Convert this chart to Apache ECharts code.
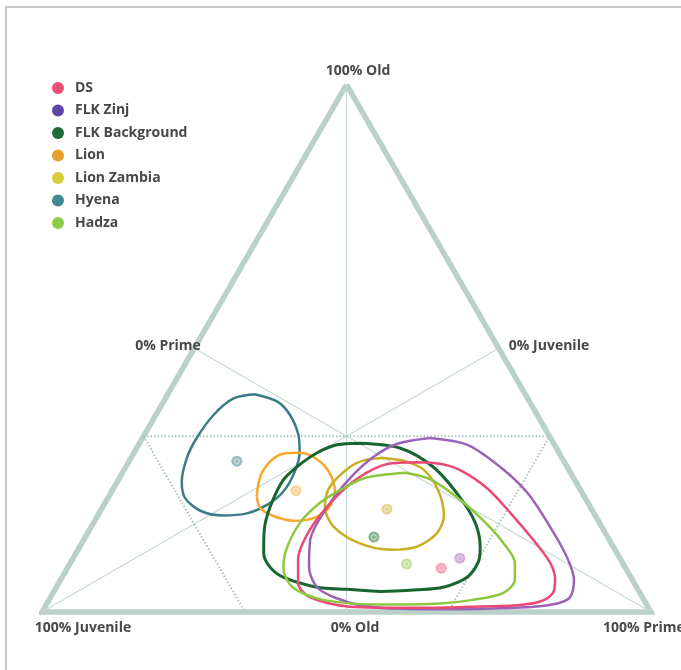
<!DOCTYPE html>
<html>
<head>
<meta charset="utf-8">
<script src="https://cdn.jsdelivr.net/npm/echarts@6/dist/echarts.min.js"></script>
<style>
  html, body { margin: 0; padding: 0; background: #fff; }
  #chart { width: 681px; height: 670px; }
</style>
</head>
<body>
<div id="chart"></div>
<script>
// Mortality-profile groups (legend order)
const groups = ['DS', 'FLK Zinj', 'FLK Background', 'Lion', 'Lion Zambia', 'Hyena', 'Hadza'];
const lineColors = ['#ea4a73', '#9b62b6', '#17662f', '#f5a82a', '#c9ae22', '#3a7d86', '#8dc63f'];
const legendColors = ['#e8527a', '#5c45a6', '#1e6b3a', '#e5a030', '#d8cc3a', '#3f8a8e', '#8ccc4a'];

// Mean profile of each group as [prime %, old %]; juvenile % is the remainder
const groupMeans = [
  [61.4, 8.3], [63.5, 10.2], [47.4, 14.2], [30.2, 23.0], [46.9, 19.5], [17.7, 28.6], [55.3, 9.1]
];

// Confidence contours as [prime %, old %]
const dsContour = [
  [47.1, 28.4], [51.3, 28.1], [55.2, 26.9], [61.3, 23.5], [67.5, 18.8], [73.8, 13.7], [78.8, 9.3],
  [81.2, 6.1], [82.1, 3.6], [80.8, 2.0], [77.3, 1.3], [69.8, 1.0], [61.2, 0.8], [50.1, 1.0],
  [42.6, 2.8], [39.3, 5.5], [37.1, 9.9], [36.2, 15.6], [37.2, 21.2], [39.2, 25.4], [42.8, 28.1]
];
const flkZinjContour = [
  [47.2, 33.0], [54.0, 31.7], [61.5, 27.5], [68.4, 22.6], [75.4, 16.1], [81.0, 10.4], [84.3, 6.1],
  [85.3, 2.8], [83.8, 1.6], [80.2, 1.0], [74.9, 0.7], [66.8, 0.5], [58.5, 0.6], [51.6, 1.3],
  [46.8, 2.7], [42.8, 4.7], [39.6, 8.5], [37.2, 13.7], [36.9, 19.9], [37.9, 25.4], [39.7, 29.4], [42.4, 31.9]
];
const flkBackgroundContour = [
  [36.2, 32.0], [43.2, 31.1], [50.5, 27.5], [57.7, 21.8], [62.7, 16.9], [65.8, 12.3], [66.9, 9.5],
  [66.5, 6.6], [63.5, 4.7], [59.5, 4.2], [53.6, 3.9], [48.0, 4.3], [42.8, 4.7], [36.3, 6.6],
  [33.2, 8.5], [30.8, 11.2], [28.7, 15.6], [27.5, 19.9], [27.1, 25.0], [28.2, 27.7], [30.1, 30.2], [32.6, 31.7]
];
const lionContour = [
  [24.3, 21.9], [23.0, 25.7], [23.2, 28.5], [24.6, 30.0], [27.3, 30.2], [30.6, 29.0], [34.1, 26.3],
  [36.7, 22.8], [37.2, 19.7], [35.7, 17.8], [32.6, 17.3], [28.9, 18.2], [26.0, 19.7]
];
const lionZambiaContour = [
  [41.4, 29.2], [45.3, 28.6], [49.3, 26.9], [53.5, 23.1], [56.8, 18.4], [57.4, 15.0], [55.4, 12.4],
  [51.3, 11.8], [45.7, 13.0], [39.9, 16.1], [36.5, 19.9], [35.4, 23.7], [36.8, 27.5], [38.6, 28.8]
];
const hyenaContour = [
  [14.3, 41.3], [18.7, 39.9], [22.0, 37.4], [25.3, 33.6], [27.1, 30.4], [28.2, 26.6], [28.2, 22.8],
  [26.8, 20.3], [24.3, 18.7], [20.6, 18.3], [16.4, 19.2], [12.7, 21.6], [10.6, 24.7], [9.2, 29.1],
  [8.9, 32.9], [9.5, 37.4], [11.2, 40.5]
];
const hadzaContour = [
  [46.4, 26.4], [51.1, 25.2], [57.2, 21.8], [63.7, 17.4], [69.2, 13.1], [73.0, 9.3], [74.6, 6.1],
  [73.9, 3.6], [69.6, 2.3], [64.5, 1.6], [55.3, 1.4], [45.0, 2.3], [38.8, 4.7], [35.5, 8.3],
  [34.2, 11.8], [33.9, 16.9], [35.3, 20.7], [37.4, 23.1], [40.3, 25.4]
];
const contours = [dsContour, flkZinjContour, flkBackgroundContour, lionContour,
  lionZambiaContour, hyenaContour, hadzaContour];

// Triangle corners and guides, [prime %, old %]
const triangleFrame = [[0, 100], [0, 0], [100, 0], [0, 100]];
const medianSegments = [[[0, 100], [50, 0]], [[0, 50], [100, 0]], [[50, 50], [0, 0]]];
const thirdSegments = [[[0, 33.33], [66.67, 33.33]], [[0, 33.33], [33.33, 0]], [[66.67, 0], [66.67, 33.33]]];
const cornerLabels = ['100% Old', '0% Prime', '0% Juvenile', '100% Juvenile', '0% Old', '100% Prime'];

// Ternary -> plane coordinates (unit side 100)
const H = Math.sqrt(3) / 2;
const toXY = p => [p[0] + p[1] / 2, p[1] * H];
const segData = segs => segs.flatMap((s, i) => (i ? ['-'] : []).concat(s.map(toXY)));

const FONT = 'Open Sans';
const labelFont = { fontFamily: FONT, fontWeight: 'bold', fontSize: 14, fill: '#484848' };
const labelPlaces = [
  { x: 358, y: 71, align: 'center' },
  { x: 168, y: 346, align: 'center' },
  { x: 549, y: 346, align: 'center' },
  { x: 83, y: 628, align: 'center' },
  { x: 355, y: 628, align: 'center' },
  { x: 603, y: 628, align: 'left' }
];

const series = [
  {
    type: 'line', silent: true, clip: false, showSymbol: false, z: 1,
    data: triangleFrame.map(toXY),
    lineStyle: { color: '#b9d1c8', width: 5.5, join: 'miter', miterLimit: 20 }
  },
  {
    type: 'line', silent: true, showSymbol: false, z: 1, connectNulls: false,
    data: segData(medianSegments),
    lineStyle: { color: '#c6d9d2', width: 1.2 }
  },
  {
    type: 'line', silent: true, showSymbol: false, z: 1, connectNulls: false,
    data: segData(thirdSegments),
    lineStyle: { color: '#a9c4bb', width: 2, type: [1.5, 2] }
  }
];

const drawOrder = [5, 3, 2, 4, 1, 0, 6];
drawOrder.forEach(i => {
  series.push({
    name: groups[i], type: 'line', showSymbol: false, smooth: 0.3, z: 3,
    data: contours[i].concat([contours[i][0]]).map(toXY),
    itemStyle: { color: lineColors[i] },
    lineStyle: { color: lineColors[i], width: i === 2 ? 3 : 2.5 }
  });
});

series.push({
  type: 'scatter', silent: true, symbol: 'circle', symbolSize: 11, z: 4,
  data: groupMeans.map((m, i) => ({ value: toXY(m), itemStyle: { color: lineColors[i], opacity: 0.5 } }))
});
series.push({
  type: 'scatter', silent: true, symbol: 'circle', symbolSize: 5, z: 5,
  data: groupMeans.map(m => toXY(m)),
  itemStyle: { color: 'rgba(0,0,0,0)', borderColor: 'rgba(255,255,255,0.7)', borderWidth: 1 }
});

const chart = echarts.init(document.getElementById('chart'), null, { renderer: 'canvas' });
chart.setOption({
  animation: false,
  backgroundColor: '#ffffff',
  grid: { left: 42, right: 30, top: 84.6, bottom: 58 },
  xAxis: { type: 'value', min: 0, max: 100, show: false },
  yAxis: { type: 'value', min: 0, max: 100 * H, show: false },
  legend: {
    orient: 'vertical', left: 47, top: 76,
    icon: 'circle', itemWidth: 12, itemHeight: 12, itemGap: 8.5,
    data: groups.map((g, i) => ({ name: g, itemStyle: { color: legendColors[i] } })),
    textStyle: { fontFamily: FONT, fontWeight: 'bold', fontSize: 14, color: '#484848', padding: [0, 0, 0, 6] }
  },
  graphic: [
    {
      type: 'polyline', silent: true,
      shape: { points: [[6, 670], [6, 7], [681, 7]] },
      style: { stroke: '#c6c6c6', lineWidth: 2, fill: null }
    }
  ].concat(cornerLabels.map((t, i) => ({
    type: 'text', silent: true, z: 100,
    x: labelPlaces[i].x, y: labelPlaces[i].y,
    style: Object.assign({ text: t, align: labelPlaces[i].align, verticalAlign: 'middle' }, labelFont)
  }))),
  series: series
});
</script>
</body>
</html>
